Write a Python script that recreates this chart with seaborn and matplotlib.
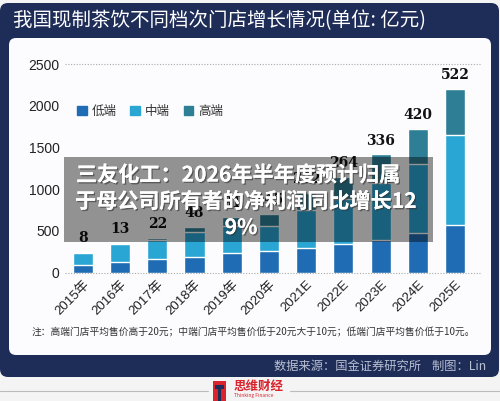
import matplotlib
matplotlib.use('Agg')
import pandas as pd
import matplotlib.pyplot as plt
import matplotlib.patches as mpatches
import matplotlib.patheffects as pe
import seaborn as sns

# data (单位: 亿元)
years = ['2015年', '2016年', '2017年', '2018年', '2019年', '2020年',
         '2021E', '2022E', '2023E', '2024E', '2025E']
low = [92, 128, 168, 191, 237, 255, 300, 345, 391, 471, 575]
mid = [149, 212, 218, 292, 323, 307, 448, 541, 689, 836, 1070]
high = [10, 15, 25, 60, 110, 140, 202, 264, 336, 420, 552]
top_labels = ['8', '13', '22', '48', '91', '145', '202', '264', '336', '420', '522']
yticks = [0, 500, 1000, 1500, 2000, 2500]

title = '我国现制茶饮不同档次门店增长情况(单位: 亿元)'
note = '注：高端门店平均售价高于20元；中端门店平均售价低于20元大于10元；低端门店平均售价低于10元。'
source = '数据来源：国金证券研究所    制图：Lin'
overlay_lines = ['三友化工：2026年半年度预计归属', '于母公司所有者的净利润同比增长12', '9%']

c_low, c_mid, c_high = '#1f6cb4', '#2aa6d4', '#2e7e96'
navy = '#1e2c58'

sns.set_theme(style='white')
plt.rcParams['font.family'] = ['Noto Sans CJK SC', 'DejaVu Sans']

W, H = 500, 401
fig = plt.figure(figsize=(W / 100, H / 100), dpi=100)
fig.patch.set_facecolor('#f4f4f4')


def px_box(x0, y0, x1, y1, color, r=0, z=0, alpha=1.0):
    # pixel box, measured from the top-left corner of the image
    p = mpatches.FancyBboxPatch((x0 / 100, (H - y1) / 100), (x1 - x0) / 100, (y1 - y0) / 100,
                                boxstyle=f'round,pad=0,rounding_size={r / 100}',
                                transform=fig.dpi_scale_trans, fc=color, ec='none',
                                zorder=z, alpha=alpha)
    fig.add_artist(p)


def fx(x):
    return x / W


def fy(y):
    return 1 - y / H


# frames
px_box(0, 3, 499, 377, navy, r=8, z=0)
px_box(9, 38, 491, 355, '#fcfcfe', r=7, z=0.5)
fig.text(fx(13), fy(21), title, color='white', fontsize=14, va='center', ha='left')

# stacked bars
df = pd.DataFrame({'year': years, 'low': low, 'mid': mid, 'high': high})
df['low_mid'] = df['low'] + df['mid']
df['total'] = df['low_mid'] + df['high']

ax = fig.add_axes([fx(65), fy(272.7), fx(480) - fx(65), fy(64) - fy(272.7)])
ax.set_zorder(1)
ax.patch.set_alpha(0)
sns.barplot(data=df, x='year', y='total', color=c_high, width=0.54, saturation=1, ax=ax)
sns.barplot(data=df, x='year', y='low_mid', color=c_mid, width=0.54, saturation=1, ax=ax)
sns.barplot(data=df, x='year', y='low', color=c_low, width=0.54, saturation=1, ax=ax)

for i, (tot, lab) in enumerate(zip(df['total'], top_labels)):
    ax.annotate(lab, (i, tot), xytext=(0, 5), textcoords='offset points', ha='center',
                va='bottom', fontsize=10, fontweight='bold', family='DejaVu Serif',
                color='#111111', annotation_clip=False)

ax.set_xlim(-0.48, 10.67)
ax.set_ylim(0, 2500)
ax.set_yticks(yticks)
ax.set_yticklabels([str(v) for v in yticks], fontsize=10, family='Liberation Sans', color='#222222')
ax.set_xticks(range(len(years)))
ax.set_xticklabels(years, rotation=45, ha='right', rotation_mode='anchor', fontsize=9.5,
                   family=['Liberation Sans', 'Noto Sans CJK SC'], color='#222222')
ax.tick_params(axis='both', length=0, pad=4)
ax.set_xlabel('')
ax.set_ylabel('')
for s in ax.spines.values():
    s.set_visible(False)
for v in (0, 2500):
    ax.axhline(v, color='#aaaaaa', lw=0.8, ls=(0, (1, 1.5)), zorder=0.5, clip_on=False)

handles = [mpatches.Patch(color=c) for c in (c_low, c_mid, c_high)]
ax.legend(handles, ['低端', '中端', '高端'], ncol=3, frameon=False, fontsize=9,
          loc='center left', bbox_to_anchor=(fx(66), fy(111.5)), bbox_transform=fig.transFigure,
          handlelength=0.75, handleheight=0.75, handletextpad=0.4, columnspacing=1.1,
          labelcolor='#333333')

# footnote and source
fig.text(fx(32), fy(332), note, fontsize=7, color='#333333', va='center', ha='left')
fig.text(fx(486), fy(366), source, fontsize=8.8, color='#b9bfd2', va='center', ha='right')

# bottom logo strip
fig.add_artist(plt.Line2D([0, fx(208)], [fy(391), fy(391)], transform=fig.transFigure,
                          color='#bbbbbb', lw=0.8))
fig.add_artist(plt.Line2D([fx(290), 1], [fy(391), fy(391)], transform=fig.transFigure,
                          color='#bbbbbb', lw=0.8))
px_box(213, 381, 226, 401, '#d9232d', z=2)
px_box(215, 385, 224, 389, navy, z=3)
px_box(218, 389, 221, 401, navy, z=3)
fig.text(fx(234), fy(386), '思维财经', fontsize=9, fontweight='bold', color='#d9232d',
         va='center', ha='left')
fig.text(fx(234), fy(396), 'Thinking Finance', fontsize=3.5, color='#d9232d',
         va='center', ha='left')

# news overlay on top of the chart
px_box(64, 157, 433, 242, 'black', z=5, alpha=0.42)
shadow = [pe.withSimplePatchShadow(offset=(1, -1), shadow_rgbFace='#333333', alpha=0.6), pe.Normal()]
line_pos = [(76, 175, 'left'), (75, 201.5, 'left'), (241, 227.5, 'center')]
for line, (x, y, ha) in zip(overlay_lines, line_pos):
    t = fig.text(fx(x), fy(y), line, fontsize=15.2, fontweight='bold',
                 color='white', va='center', ha=ha, zorder=6)
    t.set_path_effects(shadow)

fig.savefig('out.png', dpi=100, facecolor=fig.get_facecolor())
